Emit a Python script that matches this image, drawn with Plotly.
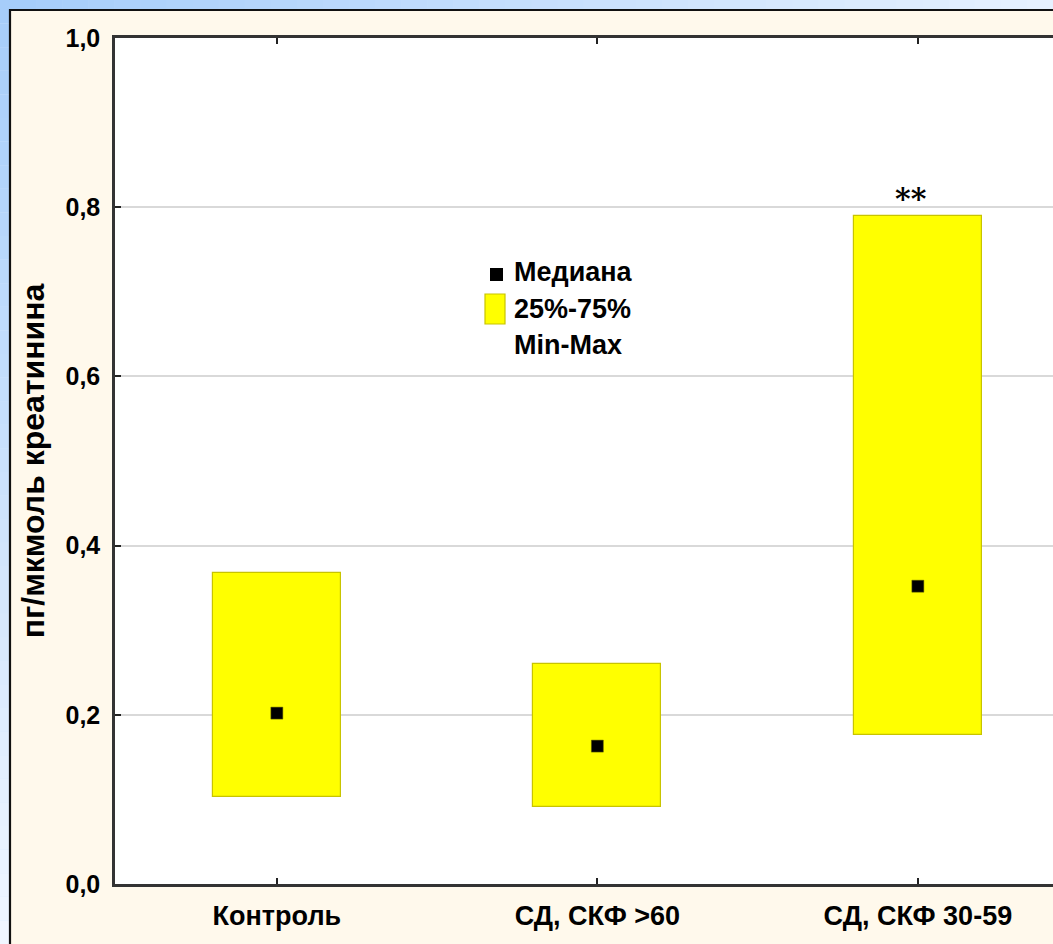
import plotly.graph_objects as go

# Urinary marker per creatinine: quartile box and median for each group
categories = ["Контроль", "СД, СКФ >60", "СД, СКФ 30-59"]
q1_values = [0.103, 0.091, 0.176]
q3_values = [0.368, 0.260, 0.790]
medians = [0.202, 0.163, 0.352]
significance = ["", "", "**"]
y_tick_values = [0.0, 0.2, 0.4, 0.6, 0.8, 1.0]
legend_labels = ["Медиана", "25%-75%", "Min-Max"]

W, H = 1053, 944
ML, MR, MT, MB = 115, 0, 38, 60
PW, PH = W - ML - MR, H - MT - MB

FONT = "Liberation Sans, Arial, sans-serif"
YELLOW = "#FFFF00"
YELLOW_EDGE = "#C8C400"


def px(x):
    """Pixel column -> paper x."""
    return (x - ML) / PW


def py(y):
    """Pixel row -> paper y."""
    return (H - MB - y) / PH


xpos = list(range(len(categories)))

fig = go.Figure()

# interquartile boxes
fig.add_trace(go.Bar(
    x=xpos,
    y=[hi - lo for lo, hi in zip(q1_values, q3_values)],
    base=q1_values,
    width=0.4,
    marker=dict(color=YELLOW, line=dict(color=YELLOW_EDGE, width=1.2)),
    showlegend=False,
    hoverinfo="skip",
))

# medians
fig.add_trace(go.Scatter(
    x=xpos,
    y=medians,
    mode="markers",
    marker=dict(symbol="square", size=12, color="black",
                line=dict(color="#6a6a00", width=0.5)),
    showlegend=False,
    hoverinfo="skip",
    cliponaxis=False,
))

shapes = []

# outer light-blue gradient border (left and top strips)
def mix(c1, c2, t):
    return "#%02x%02x%02x" % tuple(int(round(a + (b - a) * t)) for a, b in zip(c1, c2))

top_left = (0xA6, 0xCD, 0xFA)
bottom_left = (0xF0, 0xF6, 0xFF)
top_right = (0xE6, 0xF1, 0xFF)
n = 40
for i in range(n):
    y0, y1 = H * i / n, H * (i + 1) / n
    shapes.append(dict(type="rect", xref="paper", yref="paper", layer="below",
                       x0=px(0), x1=px(10), y0=py(y1), y1=py(y0),
                       fillcolor=mix(top_left, bottom_left, i / (n - 1)),
                       line=dict(width=0)))
    x0, x1 = 10 + (W - 10) * i / n, 10 + (W - 10) * (i + 1) / n
    shapes.append(dict(type="rect", xref="paper", yref="paper", layer="below",
                       x0=px(x0), x1=px(x1 + 0.5), y0=py(10), y1=py(0),
                       fillcolor=mix(top_left, top_right, i / (n - 1)),
                       line=dict(width=0)))

# cream panel with dark frame
shapes.append(dict(type="rect", xref="paper", yref="paper", layer="below",
                   x0=px(10), x1=px(W + 20), y0=py(H + 20), y1=py(10),
                   fillcolor="#FFF9EC", line=dict(color="#111111", width=2.2)))
# white plotting area
shapes.append(dict(type="rect", xref="paper", yref="paper", layer="below",
                   x0=0, x1=1, y0=0, y1=1,
                   fillcolor="white", line=dict(width=0)))

# legend glyphs
shapes.append(dict(type="rect", xref="paper", yref="paper",
                   x0=px(490), x1=px(503), y0=py(281), y1=py(268),
                   fillcolor="black", line=dict(width=0)))
shapes.append(dict(type="rect", xref="paper", yref="paper",
                   x0=px(485), x1=px(505), y0=py(324), y1=py(294),
                   fillcolor=YELLOW, line=dict(color=YELLOW_EDGE, width=1.2)))

annotations = []
for label, yc in zip(legend_labels, [272, 309, 345]):
    annotations.append(dict(
        text=label, xref="paper", yref="paper", x=px(512), y=py(yc),
        xanchor="left", yanchor="middle", showarrow=False,
        font=dict(family=FONT, size=27, color="black", weight="bold"),
    ))

for xi, top, mark in zip(xpos, q3_values, significance):
    if mark:
        annotations.append(dict(
            text=mark, x=xi, y=top, xref="x", yref="y",
            xanchor="center", yanchor="bottom", xshift=-7, yshift=-2,
            showarrow=False,
            font=dict(family="DejaVu Serif, serif", size=30, color="black",
                      weight="bold"),
        ))

fig.update_layout(
    width=W, height=H,
    margin=dict(l=ML, r=MR, t=MT, b=MB, pad=0),
    paper_bgcolor="#D6E8FE",
    plot_bgcolor="white",
    separators=", ",
    bargap=0,
    shapes=shapes,
    annotations=annotations,
    showlegend=False,
    xaxis=dict(
        range=[-0.505, (W - ML) / 320.5 - 0.505],
        tickvals=xpos, ticktext=categories,
        ticks="inside", ticklen=6, tickwidth=2, tickcolor="#222222",
        showline=True, linecolor="#333333", linewidth=2.5, mirror="ticks",
        showgrid=False, zeroline=False,
        tickfont=dict(family=FONT, size=27, color="black", weight="bold"),
        ticklabelstandoff=6,
        fixedrange=True,
    ),
    yaxis=dict(
        range=[0, 1.0],
        tickvals=y_tick_values, tickformat=".1f",
        ticks="inside", ticklen=6, tickwidth=2, tickcolor="#222222",
        showline=True, linecolor="#333333", linewidth=2.5,
        showgrid=True, gridcolor="#D9D9D9", gridwidth=1.5,
        zeroline=False,
        tickfont=dict(family=FONT, size=25, color="black", weight="bold"),
        ticklabelstandoff=7,
        title=dict(text="пг/мкмоль креатинина", standoff=12,
                   font=dict(family=FONT, size=32, color="black", weight="bold")),
        fixedrange=True,
    ),
)

fig.write_html("out.html")
